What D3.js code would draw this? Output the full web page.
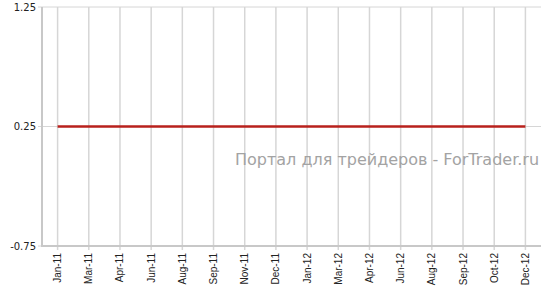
<!DOCTYPE html>
<html><head><meta charset="utf-8">
<script src="https://cdn.jsdelivr.net/npm/d3@7"></script>
<style>body{margin:0;background:#fff}</style>
</head><body>
<svg id="c" width="551" height="296"></svg>
<script>
const categories = ["Jan-11","Mar-11","Apr-11","Jun-11","Aug-11","Sep-11","Nov-11","Dec-11","Jan-12","Mar-12","Apr-12","Jun-12","Aug-12","Sep-12","Oct-12","Dec-12"];
const values = [0.25,0.25,0.25,0.25,0.25,0.25,0.25,0.25,0.25,0.25,0.25,0.25,0.25,0.25,0.25,0.25];
const yTicks = [-0.75, 0.25, 1.25];
const watermark = "Портал для трейдеров - ForTrader.ru";

const svg = d3.select("#c");
const L = 42, R = 541, T = 7, B = 246;
const x = d3.scalePoint().domain(categories).range([L, R]).padding(0.5);
const y = d3.scaleLinear().domain([-0.75, 1.25]).range([B, T]);

// horizontal gridlines
svg.append("g").selectAll("line").data(yTicks).join("line")
  .attr("x1", L - 4).attr("x2", R).attr("y1", d => y(d)).attr("y2", d => y(d))
  .attr("stroke", "#d6d6d6").attr("stroke-width", 1);

// vertical gridlines
svg.append("g").selectAll("line").data(categories).join("line")
  .attr("x1", d => x(d)).attr("x2", d => x(d)).attr("y1", T).attr("y2", B + 4)
  .attr("stroke", "#d6d6d6").attr("stroke-width", 1.5);

// watermark
svg.append("text").attr("x", 235).attr("y", 164.5)
  .attr("font-family", "DejaVu Sans, Verdana, sans-serif").attr("font-size", 16)
  .attr("fill", "#a3a3a3").text(watermark);

// axes lines
svg.append("line").attr("x1", L).attr("x2", L).attr("y1", T).attr("y2", B + 1)
  .attr("stroke", "#c8c8c8").attr("stroke-width", 2);
svg.append("line").attr("x1", L).attr("x2", R).attr("y1", B).attr("y2", B)
  .attr("stroke", "#c8c8c8").attr("stroke-width", 2);

// y labels
svg.append("g").selectAll("text").data(yTicks).join("text")
  .attr("x", 36).attr("y", d => y(d)).attr("dy", "0.35em")
  .attr("text-anchor", "end")
  .attr("font-family", "DejaVu Sans, Verdana, sans-serif").attr("font-size", 10)
  .attr("fill", "#222").text(d => d.toFixed(2));

// x labels
svg.append("g").selectAll("text").data(categories).join("text")
  .attr("transform", d => `translate(${x(d)+3.5},253) rotate(-90)`)
  .attr("text-anchor", "end")
  .attr("font-family", "Liberation Sans, Arial, sans-serif").attr("font-size", 10)
  .attr("fill", "#222").text(d => d);

// series line
const line = d3.line().x((d, i) => x(categories[i])).y(d => y(d));
svg.append("path").datum(values).attr("d", line)
  .attr("fill", "none").attr("stroke", "#b8211c").attr("stroke-width", 2.5);
</script>
</body></html>
